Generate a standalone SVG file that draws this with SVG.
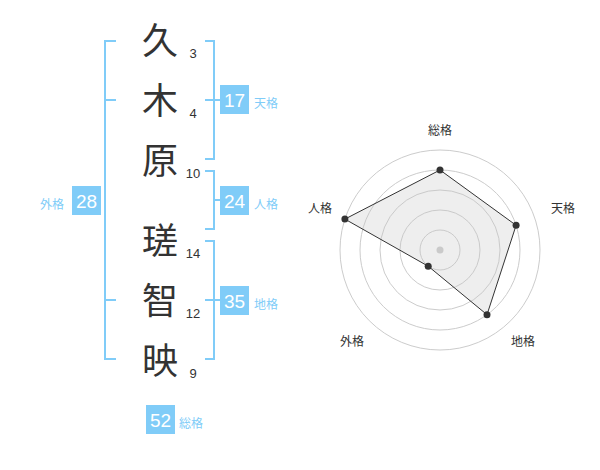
<svg xmlns="http://www.w3.org/2000/svg" width="600" height="470" viewBox="0 0 600 470">
<style>
.br{fill:none;stroke:#80ccf8;stroke-width:2}
.box{fill:#80ccf8}
.bn{font-family:"Liberation Sans",Arial,sans-serif;font-size:19px;fill:#fff;text-anchor:middle}
.bl{font-family:"Noto Sans CJK JP",sans-serif;font-size:12px;fill:#80ccf8}
.ch{font-family:"Noto Sans CJK JP",sans-serif;font-size:36px;fill:#333;text-anchor:middle}
.st{font-family:"Liberation Sans",Arial,sans-serif;font-size:13px;fill:#333;text-anchor:middle}
.rl{font-family:"Noto Sans CJK JP",sans-serif;font-size:12px;fill:#333;text-anchor:middle}
.ring{fill:none;stroke:#ccc;stroke-width:1}
.pt{fill:#333}
</style>
<rect width="600" height="470" fill="#fff"/>
<g id="connectors">
<path class="br" d="M116,41 H105 V359 H116 M105,100 H116 M105,300 H116"/>
<path class="br" d="M205,41 H214 V159 H205 M205,100 H220"/>
<path class="br" d="M205,171 H214 V229 H205 M214,200 H220"/>
<path class="br" d="M205,241 H214 V359 H205 M205,300 H220"/>
</g>
<g id="chars">
<text class="ch" x="160" y="54">久</text>
<text class="ch" x="160" y="114">木</text>
<text class="ch" x="160" y="174">原</text>
<text class="ch" x="160" y="254">瑳</text>
<text class="ch" x="160" y="314">智</text>
<text class="ch" x="160" y="374">映</text>
<text class="st" x="193" y="58">3</text>
<text class="st" x="193" y="118">4</text>
<text class="st" x="193" y="178">10</text>
<text class="st" x="193" y="258">14</text>
<text class="st" x="193" y="318">12</text>
<text class="st" x="193" y="378">9</text>
</g>
<g id="tenkaku">
<rect class="box" x="220" y="85" width="29" height="29"/>
<text class="bn" x="234.5" y="106.5">17</text>
<text class="bl" x="254" y="108">天格</text>
</g>
<g id="jinkaku">
<rect class="box" x="220" y="186" width="29" height="29"/>
<text class="bn" x="234.5" y="207.5">24</text>
<text class="bl" x="254" y="209">人格</text>
</g>
<g id="chikaku">
<rect class="box" x="220" y="286" width="29" height="29"/>
<text class="bn" x="234.5" y="307.5">35</text>
<text class="bl" x="254" y="309">地格</text>
</g>
<g id="gaikaku">
<rect class="box" x="72" y="186" width="29" height="29"/>
<text class="bn" x="86.5" y="207.5">28</text>
<text class="bl" x="40" y="209">外格</text>
</g>
<g id="soukaku">
<rect class="box" x="146" y="405" width="29" height="29"/>
<text class="bn" x="160.5" y="426.5">52</text>
<text class="bl" x="179" y="428">総格</text>
</g>
<g id="radar">
<circle class="ring" cx="440" cy="250" r="20"/>
<circle class="ring" cx="440" cy="250" r="40"/>
<circle class="ring" cx="440" cy="250" r="60"/>
<circle class="ring" cx="440" cy="250" r="80"/>
<circle class="ring" cx="440" cy="250" r="100"/>
<circle cx="440" cy="250" r="3.5" fill="#ccc"/>
<polygon points="440,170 516.1,225.3 487,314.7 428.2,266.2 344.9,219.1" fill="rgba(200,200,200,0.3)" stroke="#333" stroke-width="1"/>
<circle class="pt" cx="440" cy="170" r="3.5"/>
<circle class="pt" cx="516.1" cy="225.3" r="3.5"/>
<circle class="pt" cx="487" cy="314.7" r="3.5"/>
<circle class="pt" cx="428.2" cy="266.2" r="3.5"/>
<circle class="pt" cx="344.9" cy="219.1" r="3.5"/>
<text class="rl" x="440" y="135">総格</text>
<text class="rl" x="563" y="213">天格</text>
<text class="rl" x="523" y="346">地格</text>
<text class="rl" x="352" y="346">外格</text>
<text class="rl" x="320" y="213">人格</text>
</g>
</svg>
